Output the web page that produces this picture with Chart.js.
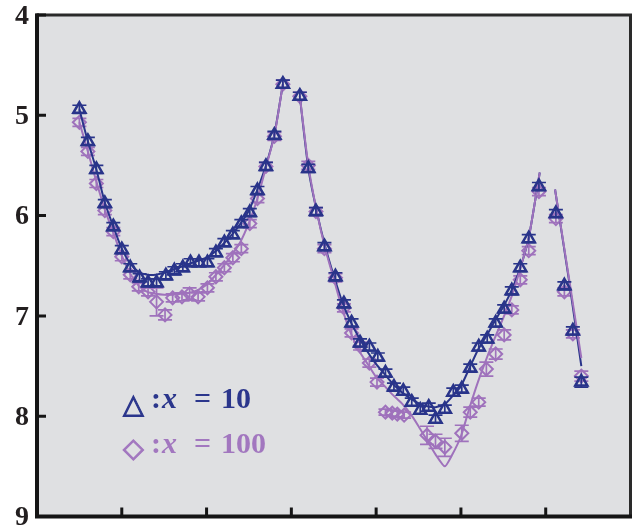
<!DOCTYPE html>
<html>
<head>
<meta charset="utf-8">
<script src="https://cdn.jsdelivr.net/npm/chart.js@4"></script>
<style>
  body { margin: 0; background: #fff; }
  #wrap { position: relative; width: 640px; height: 526px; overflow: hidden; }
  #grafico { position: absolute; left: 0; top: 0; }
  .ley { position: absolute; line-height: 1; white-space: nowrap; font-family: 'Liberation Serif', 'Times New Roman', Times, serif; font-weight: bold; font-size: 30px; }
  .sim { font-family: 'DejaVu Sans', sans-serif; font-weight: bold; font-size: 27px; -webkit-text-stroke: 1.1px currentColor; }
  .azul { color: #2b368c; }
  .lila { color: #a277bf; }
</style>
</head>
<body>
<div id="wrap">
  <canvas id="grafico" width="640" height="526"></canvas>
  <!-- leyenda -->
  <span class="ley sim azul" style="left:123px; top:390px;">△</span>
  <span class="ley azul" style="left:151px; top:383px;">:</span>
  <span class="ley azul" style="left:162px; top:383px;"><i>x</i></span>
  <span class="ley azul" style="left:194px; top:383px;">=</span>
  <span class="ley azul" style="left:221px; top:383px;">10</span>
  <span class="ley sim lila" style="left:123px; top:434px;">◇</span>
  <span class="ley lila" style="left:151px; top:428px;">:</span>
  <span class="ley lila" style="left:162px; top:428px;"><i>x</i></span>
  <span class="ley lila" style="left:194px; top:428px;">=</span>
  <span class="ley lila" style="left:221px; top:428px;">100</span>
</div>
<script>
// ejes
const yTickLabels = ['4', '5', '6', '7', '8', '9'];
const yTickValues = [4, 5, 6, 7, 8, 9];
const xTickValues = [1, 2, 3, 4, 5, 6];

// triangulos, x = 10
const triX = [0.5, 0.6, 0.7, 0.8, 0.9, 1.0, 1.1, 1.21, 1.31, 1.41, 1.52, 1.62, 1.72, 1.81, 1.91, 2.01, 2.11, 2.21, 2.31, 2.41, 2.51, 2.6, 2.7, 2.8, 2.9,
  3.1, 3.2, 3.29, 3.39, 3.52, 3.62, 3.71, 3.81, 3.92, 4.02, 4.11, 4.21, 4.32, 4.42, 4.52, 4.62, 4.7, 4.81, 4.91, 5.01, 5.11, 5.21, 5.31, 5.41, 5.51, 5.6, 5.7, 5.8, 5.92,
  6.12, 6.22, 6.32, 6.42];
const triY = [4.94, 5.26, 5.54, 5.88, 6.11, 6.34, 6.52, 6.62, 6.67, 6.67, 6.60, 6.55, 6.52, 6.47, 6.47, 6.47, 6.37, 6.27, 6.19, 6.08, 5.97, 5.75, 5.51, 5.20, 4.69,
  4.81, 5.53, 5.96, 6.31, 6.61, 6.88, 7.07, 7.27, 7.31, 7.41, 7.57, 7.71, 7.75, 7.86, 7.94, 7.91, 8.03, 7.93, 7.76, 7.73, 7.52, 7.31, 7.23, 7.07, 6.93, 6.75, 6.52, 6.23, 5.71,
  5.98, 6.70, 7.15, 7.66];
const triErr = [0.04, 0.04, 0.04, 0.04, 0.04, 0.04, 0.04, 0.04, 0.04, 0.04, 0.04, 0.04, 0.04, 0.04, 0.04, 0.04, 0.04, 0.04, 0.04, 0.04, 0.04, 0.04, 0.04, 0.04, 0.04,
  0.04, 0.04, 0.04, 0.04, 0.04, 0.04, 0.04, 0.04, 0.04, 0.04, 0.04, 0.04, 0.04, 0.04, 0.04, 0.04, 0.04, 0.04, 0.04, 0.04, 0.04, 0.04, 0.04, 0.04, 0.04, 0.04, 0.04, 0.04, 0.04,
  0.04, 0.04, 0.04, 0.05];

// rombos, x = 100
const diaX = [0.5, 0.6, 0.7, 0.8, 0.9, 1.0, 1.1, 1.2, 1.31, 1.41, 1.51, 1.6, 1.71, 1.8, 1.9, 2.01, 2.11, 2.21, 2.31, 2.41, 2.51, 2.6, 2.7, 2.8, 2.9,
  3.1, 3.2, 3.29, 3.39, 3.52, 3.62, 3.71, 3.81, 3.92, 4.01,
  4.11, 4.19, 4.25, 4.33,
  4.6, 4.7, 4.81,
  5.01, 5.11, 5.21, 5.3, 5.41, 5.51, 5.6, 5.7, 5.8, 5.92,
  6.12, 6.22, 6.32, 6.42];
const diaY = [5.07, 5.36, 5.68, 5.95, 6.16, 6.41, 6.59, 6.71, 6.76, 6.86, 6.99, 6.82, 6.81, 6.78, 6.81, 6.72, 6.61, 6.52, 6.42, 6.33, 6.08, 5.83, 5.51, 5.21, 4.69,
  4.81, 5.50, 5.96, 6.33, 6.62, 6.92, 7.17, 7.30, 7.47, 7.66,
  7.96, 7.97, 7.98, 7.99,
  8.19, 8.25, 8.31,
  8.17, 7.96, 7.86, 7.53, 7.38, 7.19, 6.94, 6.64, 6.35, 5.76,
  6.03, 6.76, 7.18, 7.60];
const diaErr = [0.04, 0.04, 0.04, 0.04, 0.04, 0.04, 0.04, 0.04, 0.04, 0.14, 0.05, 0.04, 0.04, 0.06, 0.04, 0.04, 0.04, 0.04, 0.04, 0.04, 0.04, 0.04, 0.04, 0.04, 0.04,
  0.04, 0.04, 0.04, 0.04, 0.04, 0.04, 0.04, 0.04, 0.04, 0.04,
  0.03, 0.03, 0.03, 0.03,
  0.09, 0.07, 0.09,
  0.08, 0.05, 0.04, 0.07, 0.05, 0.05, 0.04, 0.04, 0.04, 0.04,
  0.04, 0.04, 0.04, 0.05];

// curvas ajustadas (null = corte)
const fitX = [0.5, 0.6, 0.7, 0.8, 0.9, 1.0, 1.1, 1.2, 1.3, 1.4, 1.5, 1.6, 1.7, 1.8, 1.9, 2.0, 2.1, 2.2, 2.3, 2.4, 2.5, 2.6, 2.7, 2.8, 2.9, 3.0,
  3.1, 3.2, 3.3, 3.4, 3.5, 3.6, 3.7, 3.8, 3.9, 4.0, 4.1, 4.2, 4.3, 4.4, 4.5, 4.6, 4.7, 4.81, 4.9, 5.0, 5.1, 5.2, 5.3, 5.4, 5.5, 5.6, 5.7, 5.8, 5.93, 6.0,
  6.11, 6.27, 6.42];
const fitAzul = [4.94, 5.26, 5.54, 5.87, 6.11, 6.33, 6.48, 6.56, 6.59, 6.59, 6.57, 6.54, 6.51, 6.48, 6.45, 6.42, 6.36, 6.28, 6.19, 6.08, 5.95, 5.74, 5.50, 5.19, 4.69, null,
  4.81, 5.53, 5.96, 6.31, 6.60, 6.86, 7.06, 7.22, 7.36, 7.48, 7.58, 7.68, 7.76, 7.82, 7.87, 7.90, 7.91, 7.88, 7.80, 7.70, 7.52, 7.34, 7.20, 7.05, 6.91, 6.74, 6.52, 6.22, 5.57, null,
  5.74, 6.62, 7.50];
const fitLila = [5.07, 5.36, 5.66, 5.94, 6.17, 6.40, 6.58, 6.70, 6.76, 6.78, 6.79, 6.79, 6.78, 6.77, 6.74, 6.69, 6.60, 6.50, 6.39, 6.26, 6.07, 5.83, 5.52, 5.20, 4.69, null,
  4.81, 5.50, 5.96, 6.33, 6.63, 6.93, 7.17, 7.35, 7.48, 7.61, 7.70, 7.79, 7.87, 7.97, 8.10, 8.24, 8.38, 8.50, 8.38, 8.20, 7.92, 7.66, 7.43, 7.22, 7.02, 6.80, 6.53, 6.22, 5.57, null,
  5.74, 6.60, 7.42];

const AZUL = '#29348a';
const LILA = '#9f72bc';

const puntos = (xs, ys) => xs.map((x, i) => ({ x: x, y: ys[i] }));

// fondo gris del area
const fondo = {
  id: 'fondo',
  beforeDatasetsDraw(chart) {
    const { ctx, chartArea: a } = chart;
    ctx.save();
    ctx.fillStyle = '#dfe0e2';
    ctx.fillRect(a.left, a.top, a.right - a.left, a.bottom - a.top);
    ctx.restore();
  }
};

// barras de error
const barrasError = {
  id: 'barrasError',
  afterDatasetDraw(chart, args) {
    const ds = chart.data.datasets[args.index];
    if (!ds.errores) return;
    const { ctx, scales: { x, y } } = chart;
    ctx.save();
    ctx.strokeStyle = ds.borderColor;
    ctx.lineWidth = 1.7;
    ds.data.forEach((p, i) => {
      const px = x.getPixelForValue(p.x);
      const arriba = y.getPixelForValue(p.y - ds.errores[i]);
      const abajo = y.getPixelForValue(p.y + ds.errores[i]);
      ctx.beginPath();
      ctx.moveTo(px, arriba); ctx.lineTo(px, abajo);
      ctx.moveTo(px - 7, arriba); ctx.lineTo(px + 7, arriba);
      ctx.moveTo(px - 7, abajo); ctx.lineTo(px + 7, abajo);
      ctx.stroke();
    });
    ctx.restore();
  }
};

// marco, marcas hacia dentro y etiquetas del eje y
const marco = {
  id: 'marco',
  afterDraw(chart) {
    const { ctx, chartArea: a, scales: { x, y } } = chart;
    ctx.save();
    ctx.strokeStyle = '#2a2a2a';
    ctx.lineWidth = 3;
    ctx.strokeRect(a.left, a.top, a.right - a.left, a.bottom - a.top);
    ctx.strokeStyle = '#151515';
    ctx.lineWidth = 4;
    ctx.beginPath();
    ctx.moveTo(a.left, a.top - 1.5);
    ctx.lineTo(a.left, a.bottom);
    ctx.lineTo(a.right + 1.5, a.bottom);
    ctx.stroke();

    ctx.lineWidth = 3;
    ctx.beginPath();
    yTickValues.forEach(v => {
      const py = y.getPixelForValue(v);
      ctx.moveTo(a.left, py);
      ctx.lineTo(a.left + 9, py);
    });
    xTickValues.forEach(v => {
      const px = x.getPixelForValue(v);
      ctx.moveTo(px, a.bottom);
      ctx.lineTo(px, a.bottom - 9);
    });
    ctx.stroke();

    ctx.fillStyle = '#231f20';
    ctx.font = 'bold 28px "Liberation Serif", "Times New Roman", Times, serif';
    ctx.textAlign = 'right';
    ctx.textBaseline = 'middle';
    yTickValues.forEach((v, i) => {
      ctx.fillText(yTickLabels[i], 29, y.getPixelForValue(v) + 1.5);
    });
    ctx.restore();
  }
};

new Chart(document.getElementById('grafico'), {
  type: 'line',
  data: {
    datasets: [
      {
        label: 'x = 100',
        data: puntos(diaX, diaY),
        errores: diaErr,
        showLine: false,
        borderColor: LILA,
        backgroundColor: 'rgba(0,0,0,0)',
        pointStyle: 'rectRot',
        pointRadius: 6.5,
        pointBorderWidth: 2,
        order: 4
      },
      {
        label: 'ajuste x = 10',
        data: puntos(fitX, fitAzul),
        borderColor: AZUL,
        borderWidth: 2,
        pointRadius: 0,
        tension: 0.2,
        spanGaps: false,
        order: 3
      },
      {
        label: 'ajuste x = 100',
        data: puntos(fitX, fitLila),
        borderColor: LILA,
        borderWidth: 2,
        pointRadius: 0,
        tension: 0.2,
        spanGaps: false,
        order: 2
      },
      {
        label: 'x = 10',
        data: puntos(triX, triY),
        errores: triErr,
        showLine: false,
        borderColor: AZUL,
        backgroundColor: 'rgba(0,0,0,0)',
        pointStyle: 'triangle',
        pointRadius: 7,
        pointBorderWidth: 2.5,
        order: 1
      }
    ]
  },
  options: {
    responsive: false,
    animation: false,
    layout: { padding: { left: 37, top: 15, right: 8, bottom: 6 } },
    plugins: {
      legend: { display: false },
      tooltip: { enabled: false }
    },
    scales: {
      x: { type: 'linear', min: 0, max: 7, display: false },
      y: { type: 'linear', min: 4, max: 9, reverse: true, display: false }
    }
  },
  plugins: [fondo, barrasError, marco]
});
</script>
</body>
</html>
